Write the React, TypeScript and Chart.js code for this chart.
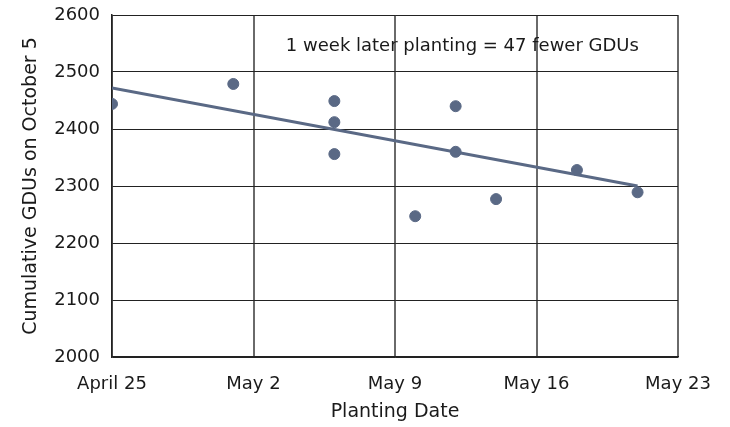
import React, { useEffect, useRef } from "react";
import { Chart, registerables } from "chart.js";

Chart.register(...registerables);

// Days since April 25
const pointDays = [0, 6, 11, 11, 11, 15, 17, 17, 19, 23, 26];
const pointGDUs = [2444, 2479, 2449, 2412, 2356, 2247, 2440, 2360, 2277, 2328, 2289];
const trendDays = [0, 26];
const trendGDUs = [2472, 2300];
const xTickDays = [0, 7, 14, 21, 28];
const xTickLabels = ["April 25", "May 2", "May 9", "May 16", "May 23"];
const annotationText = "1 week later planting = 47 fewer GDUs";
const annotationDay = 8.6;
const annotationGDU = 2545;

const FONT = "'DejaVu Sans', sans-serif";
const COLOR = "#5a6985";
const TEXT = "#1a1a1a";

export default function App() {
  const ref = useRef<HTMLCanvasElement | null>(null);
  useEffect(() => {
    if (!ref.current) return;
    const annot = {
      id: "annot",
      afterDatasetsDraw(chart: any) {
        const { ctx, scales } = chart;
        ctx.save();
        ctx.font = `18px ${FONT}`;
        ctx.fillStyle = TEXT;
        ctx.textAlign = "left";
        ctx.textBaseline = "middle";
        ctx.fillText(
          annotationText,
          scales.x.getPixelForValue(annotationDay),
          scales.y.getPixelForValue(annotationGDU)
        );
        ctx.restore();
      },
    };
    const chart = new Chart(ref.current, {
      type: "scatter",
      data: {
        datasets: [
          {
            type: "line",
            data: trendDays.map((d, i) => ({ x: d, y: trendGDUs[i] })),
            borderColor: COLOR,
            borderWidth: 3,
            pointRadius: 0,
            fill: false,
            order: 2,
          },
          {
            data: pointDays.map((d, i) => ({ x: d, y: pointGDUs[i] })),
            backgroundColor: COLOR,
            borderColor: COLOR,
            pointRadius: 5.5,
            order: 1,
          } as any,
        ],
      },
      options: {
        animation: false,
        responsive: false,
        layout: { padding: { top: 15, right: 52, left: 0, bottom: 4 } },
        plugins: { legend: { display: false }, tooltip: { enabled: false } },
        scales: {
          x: {
            type: "linear",
            min: 0,
            max: 28,
            afterBuildTicks: (s: any) => {
              s.ticks = xTickDays.map((v) => ({ value: v }));
            },
            afterFit: (s: any) => {
              s.height = 66;
              s.paddingLeft = 0;
              s.paddingRight = 0;
            },
            ticks: {
              callback: (v: any) => {
                const i = xTickDays.indexOf(Number(v));
                return i >= 0 ? xTickLabels[i] : "";
              },
              font: { family: FONT, size: 18 },
              color: TEXT,
              padding: 17,
              maxRotation: 0,
            },
            grid: { color: "#6a6a6a", lineWidth: 2, drawTicks: false },
            border: { color: "#222", width: 1.5 },
            title: {
              display: true,
              text: "Planting Date",
              font: { family: FONT, size: 19 },
              color: TEXT,
              padding: { top: 0, bottom: 0 },
            },
          },
          y: {
            min: 2000,
            max: 2600,
            ticks: {
              stepSize: 100,
              callback: (v: any) => String(v),
              font: { family: FONT, size: 18 },
              color: TEXT,
              padding: 12,
            },
            afterFit: (s: any) => {
              s.width = 112;
              s.paddingTop = 0;
              s.paddingBottom = 0;
            },
            grid: { color: "#222", lineWidth: 1, drawTicks: false },
            border: { color: "#222", width: 1.5 },
            title: {
              display: true,
              text: "Cumulative GDUs on October 5",
              font: { family: FONT, size: 19 },
              color: TEXT,
              padding: { top: 20, bottom: 0 },
            },
          },
        },
      },
      plugins: [annot],
    } as any);
    return () => chart.destroy();
  }, []);
  return (
    <div style={{ position: "fixed", left: 0, top: 0, width: 730, height: 427, background: "#fff" }}>
      <canvas ref={ref} width={730} height={427} />
    </div>
  );
}
